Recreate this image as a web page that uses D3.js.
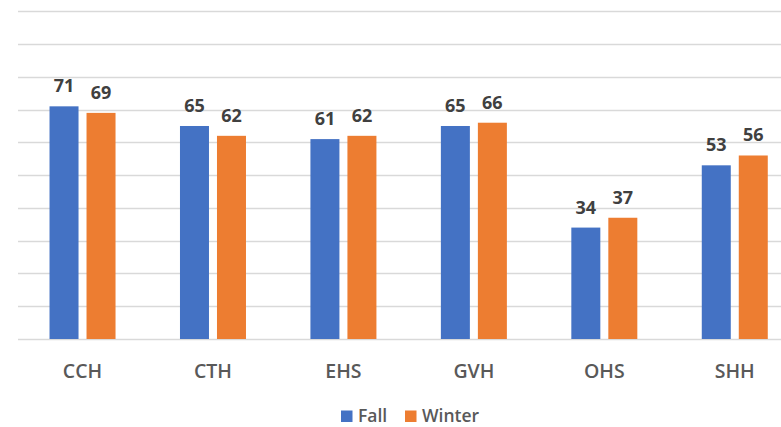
<!DOCTYPE html>
<html><head><meta charset="utf-8">
<script src="https://cdn.jsdelivr.net/npm/d3@7"></script>
<style>html,body{margin:0;padding:0;background:#fff;}svg{display:block;}</style>
</head><body>
<script>
const categories = ["CCH","CTH","EHS","GVH","OHS","SHH"];
const fallValues = [71,65,61,65,34,53];
const winterValues = [69,62,62,66,37,56];
const seriesNames = ["Fall","Winter"];
const seriesColors = ["#4472C4","#ED7D31"];
const yTicks = [0,10,20,30,40,50,60,70,80,90,100];

const W = 781, H = 427;
const svg = d3.select("body").append("svg").attr("width", W).attr("height", H);

const x = d3.scaleBand().domain(categories).range([17.3, 800]).paddingInner(0).paddingOuter(0);
const y = d3.scaleLinear().domain([0,100]).range([339, 11.3]);
const barW = 29, gap = 8;

// gridlines
svg.append("g").selectAll("line").data(yTicks).join("line")
  .attr("x1", 18).attr("x2", W)
  .attr("y1", d => Math.round(y(d)) + 0.5).attr("y2", d => Math.round(y(d)) + 0.5)
  .attr("stroke", "#d9d9d9").attr("stroke-width", 1.3);

const data = categories.map((c,i) => ({c, vals:[fallValues[i], winterValues[i]]}));
const groups = svg.append("g").selectAll("g").data(data).join("g");
groups.each(function(d){
  const g = d3.select(this);
  const cx = x(d.c) + x.bandwidth()/2;
  d.vals.forEach((v,j) => {
    const bx = j === 0 ? cx - gap/2 - barW : cx + gap/2;
    g.append("rect").attr("x", bx).attr("y", y(v)).attr("width", barW).attr("height", y(0) - y(v))
      .attr("fill", seriesColors[j]);
    g.append("text").attr("x", bx + barW/2).attr("y", y(v) - 14)
      .attr("text-anchor", "middle").attr("font-family", "Open Sans, sans-serif")
      .attr("font-weight", 700).attr("font-size", 18).attr("fill", "#404040").text(v);
  });
  g.append("text").attr("x", cx).attr("y", 377.5).attr("text-anchor","middle")
    .attr("font-family", "Open Sans, sans-serif").attr("font-weight", 600)
    .attr("font-size", 19.5).attr("fill", "#595959").text(d.c);
});

// legend
const legendItems = [{name: seriesNames[0], color: seriesColors[0], x: 341}, {name: seriesNames[1], color: seriesColors[1], x: 405}];
const lg = svg.append("g").selectAll("g").data(legendItems).join("g");
lg.append("rect").attr("x", d => d.x).attr("y", 410.5).attr("width", 11.5).attr("height", 11.5).attr("fill", d => d.color);
lg.append("text").attr("x", d => d.x + 17).attr("y", 422)
  .attr("font-family", "Open Sans, sans-serif").attr("font-weight", 600)
  .attr("font-size", 17.5).attr("fill", "#595959").text(d => d.name);
</script>
</body></html>
